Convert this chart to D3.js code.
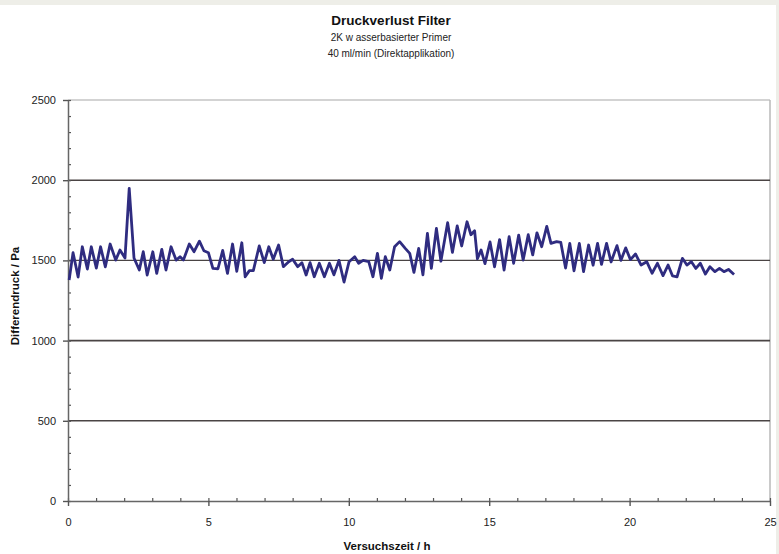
<!DOCTYPE html>
<html>
<head>
<meta charset="utf-8">
<script src="https://cdn.jsdelivr.net/npm/d3@7"></script>
<style>
  html, body { margin: 0; padding: 0; background: #ffffff; }
  svg { display: block; font-family: "Liberation Sans", Arial, sans-serif; }
</style>
</head>
<body>
<svg id="chart" width="779" height="554"></svg>
<script>
// ---- data ----
const titleText = "Druckverlust Filter";
const subtitle1 = "2K w asserbasierter Primer";
const subtitle2 = "40 ml/min (Direktapplikation)";
const xLabel = "Versuchszeit / h";
const yLabel = "Differendruck / Pa";

const xTicks = [0, 5, 10, 15, 20, 25];
const yTicks = [0, 500, 1000, 1500, 2000, 2500];
const gridValues = [500, 1000, 1500, 2000];

const timeH = [
  0.04, 0.18, 0.36, 0.51, 0.69, 0.83, 1.01, 1.16, 1.33, 1.50,
  1.70, 1.85, 2.03, 2.18, 2.35, 2.54, 2.68, 2.82, 3.02, 3.16,
  3.34, 3.49, 3.67, 3.85, 3.99, 4.11, 4.32, 4.49, 4.68, 4.84,
  5.00, 5.16, 5.34, 5.51, 5.68, 5.86, 6.01, 6.19, 6.31, 6.46,
  6.60, 6.81, 6.99, 7.15, 7.31, 7.50, 7.67, 7.86, 8.00, 8.18,
  8.33, 8.48, 8.62, 8.77, 8.95, 9.13, 9.31, 9.47, 9.65, 9.83,
  10.01, 10.21, 10.35, 10.51, 10.71, 10.86, 11.02, 11.16, 11.30, 11.46,
  11.63, 11.81, 12.01, 12.17, 12.32, 12.49, 12.64, 12.80, 12.94, 13.12,
  13.28, 13.52, 13.69, 13.86, 14.02, 14.21, 14.35, 14.48, 14.58, 14.71,
  14.85, 15.03, 15.19, 15.37, 15.53, 15.71, 15.87, 16.05, 16.21, 16.39,
  16.55, 16.70, 16.87, 17.05, 17.20, 17.40, 17.55, 17.72, 17.87, 18.02,
  18.21, 18.36, 18.54, 18.70, 18.86, 19.00, 19.18, 19.34, 19.55, 19.69,
  19.86, 20.03, 20.21, 20.41, 20.61, 20.80, 20.99, 21.19, 21.37, 21.53,
  21.69, 21.88, 22.04, 22.20, 22.36, 22.52, 22.70, 22.86, 23.04, 23.20,
  23.36, 23.52, 23.72
];
const pressurePa = [
  1378, 1548, 1396, 1585, 1446, 1585, 1452, 1585, 1460, 1602,
  1502, 1565, 1515, 1949, 1515, 1440, 1554, 1409, 1554, 1419,
  1569, 1440, 1585, 1502, 1523, 1502, 1602, 1554, 1620, 1560,
  1548, 1450, 1448, 1562, 1419, 1602, 1432, 1610, 1398, 1436,
  1436, 1590, 1486, 1585, 1507, 1596, 1461, 1492, 1507, 1461,
  1486, 1409, 1486, 1398, 1482, 1398, 1482, 1410, 1500, 1365,
  1492, 1523, 1482, 1500, 1492, 1398, 1544, 1388, 1523, 1440,
  1585, 1617, 1575, 1544, 1425, 1575, 1410, 1669, 1450, 1700,
  1495, 1735, 1550, 1715, 1590, 1741, 1660, 1685, 1510, 1565,
  1480, 1615, 1460, 1630, 1440, 1648, 1482, 1658, 1502, 1660,
  1534, 1672, 1585, 1712, 1606, 1617, 1612, 1452, 1606, 1435,
  1606, 1430, 1596, 1470, 1606, 1475, 1606, 1490, 1592, 1500,
  1578, 1505, 1540, 1471, 1492, 1420, 1482, 1405, 1471, 1403,
  1398, 1513, 1471, 1492, 1450, 1482, 1415, 1461, 1430, 1450,
  1430, 1444, 1412
];

// ---- drawing ----
const svg = d3.select("#chart");
const W = 779, H = 554;

// background frame
svg.append("rect").attr("x", 0).attr("y", 0).attr("width", W).attr("height", H).attr("fill", "#eeeee8");
svg.append("rect").attr("x", 0).attr("y", 5).attr("width", 776).attr("height", H - 5).attr("fill", "#ffffff");

const x = d3.scaleLinear().domain([0, 25]).range([68, 770]);
const y = d3.scaleLinear().domain([0, 2500]).range([501, 100]);

// plot border top/right
svg.append("line").attr("x1", x(0)).attr("x2", x(25)).attr("y1", y(2500)).attr("y2", y(2500))
  .attr("stroke", "#a8a8a8").attr("stroke-width", 1.2);
svg.append("line").attr("x1", x(25)).attr("x2", x(25)).attr("y1", y(2500)).attr("y2", y(0))
  .attr("stroke", "#b8b8b8").attr("stroke-width", 1.5);

// gridlines
svg.append("g").selectAll("line").data(gridValues).join("line")
  .attr("x1", x(0)).attr("x2", x(25))
  .attr("y1", d => y(d)).attr("y2", d => y(d))
  .attr("stroke", "#4a4444").attr("stroke-width", d => d === 1500 ? 1.2 : 1.6);

// minor ticks y (inside)
const yMinor = svg.append("g").attr("transform", `translate(${x(0)},0)`)
  .call(d3.axisLeft(y).tickValues(d3.range(0, 2501, 100)).tickSize(-3).tickFormat(""));
yMinor.select(".domain").remove();
yMinor.selectAll("line").attr("stroke", "#555").attr("stroke-width", 1.2);

// minor ticks x (inside)
const xMinor = svg.append("g").attr("transform", `translate(0,${y(0)})`)
  .call(d3.axisBottom(x).tickValues(d3.range(0, 26, 1)).tickSize(-3).tickFormat(""));
xMinor.select(".domain").remove();
xMinor.selectAll("line").attr("stroke", "#555").attr("stroke-width", 1.2);

// major y axis
const yAxis = svg.append("g").attr("transform", `translate(${x(0)},0)`)
  .call(d3.axisLeft(y).tickValues(yTicks).tickFormat(d3.format("d")).tickSize(5).tickPadding(7).tickSizeOuter(0));
yAxis.select(".domain").attr("stroke", "#666").attr("stroke-width", 1.5);
yAxis.selectAll("line").attr("stroke", "#555").attr("stroke-width", 1.4);
yAxis.selectAll("text").attr("font-size", 11).attr("fill", "#222")
  .attr("font-family", "Liberation Sans, Arial, sans-serif");

// major x axis
const xAxis = svg.append("g").attr("transform", `translate(0,${y(0)})`)
  .call(d3.axisBottom(x).tickValues(xTicks).tickFormat(d3.format("d")).tickSize(5).tickPadding(12).tickSizeOuter(0));
xAxis.select(".domain").attr("stroke", "#666").attr("stroke-width", 1.5);
xAxis.selectAll("line").attr("stroke", "#555").attr("stroke-width", 1.4);
xAxis.selectAll("text").attr("font-size", 11).attr("fill", "#222")
  .attr("font-family", "Liberation Sans, Arial, sans-serif");

// line
const data = timeH.map((t, i) => ({ t, v: pressurePa[i] }));
svg.append("path").datum(data)
  .attr("fill", "none")
  .attr("stroke", "#2f2c80")
  .attr("stroke-width", 2.8)
  .attr("stroke-linejoin", "round")
  .attr("d", d3.line().x(d => x(d.t)).y(d => y(d.v)));

// titles
svg.append("text").attr("x", 391).attr("y", 25).attr("text-anchor", "middle")
  .attr("font-size", 13.5).attr("font-weight", "bold").attr("fill", "#111").text(titleText);
svg.append("text").attr("x", 391).attr("y", 41).attr("text-anchor", "middle")
  .attr("font-size", 10).attr("fill", "#222").text(subtitle1);
svg.append("text").attr("x", 391).attr("y", 57).attr("text-anchor", "middle")
  .attr("font-size", 10).attr("fill", "#222").text(subtitle2);

svg.append("text").attr("x", 387).attr("y", 550).attr("text-anchor", "middle")
  .attr("font-size", 11.5).attr("font-weight", "bold").attr("fill", "#111").text(xLabel);
svg.append("text").attr("transform", "translate(19,296) rotate(-90)").attr("text-anchor", "middle")
  .attr("font-size", 11.5).attr("font-weight", "bold").attr("fill", "#111").text(yLabel);
</script>
</body>
</html>
